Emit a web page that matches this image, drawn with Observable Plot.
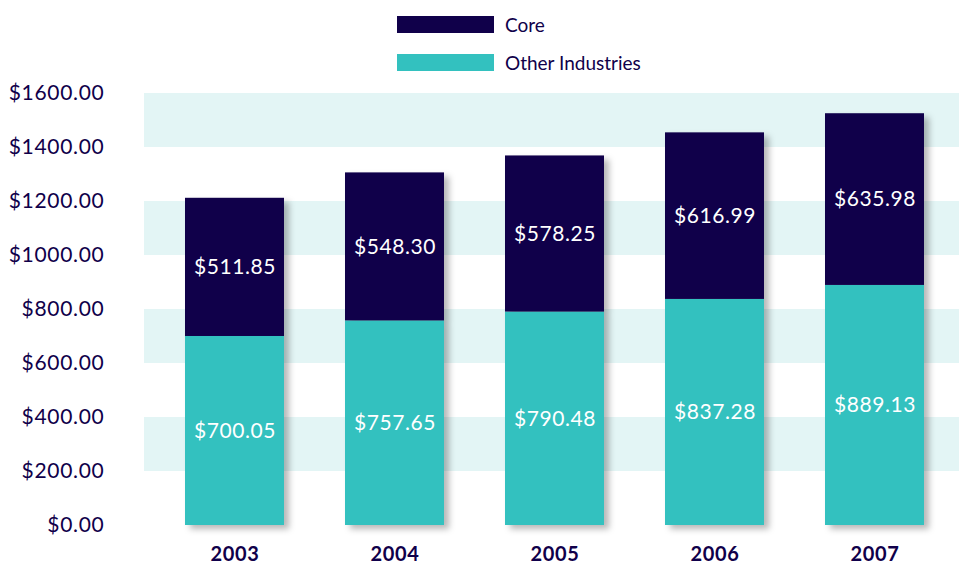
<!DOCTYPE html>
<html>
<head>
<meta charset="utf-8">
<script src="https://cdn.jsdelivr.net/npm/d3@7"></script>
<script src="https://cdn.jsdelivr.net/npm/@observablehq/plot@0.6"></script>
<style>
  html, body { margin: 0; padding: 0; background: #fff; }
  #wrap { position: relative; width: 959px; height: 569px; overflow: hidden; }
  #legend { position: absolute; left: 397px; top: 0; font-family: Lato, sans-serif; font-size: 19px; color: #10004a; }
  .item { position: absolute; left: 0; white-space: nowrap; display: flex; align-items: center; }
  .sw { width: 97px; height: 17px; margin-right: 11px; }
  #chart svg g[aria-label^="x-axis"] text { font-weight: bold; font-size: 20px; letter-spacing: 0.6px; }
  #chart svg g[aria-label^="y-axis"] text { font-size: 21px; letter-spacing: 0.7px; }
  #chart svg g[aria-label="text"] text { letter-spacing: 0.6px; }
  #chart svg g[aria-label="bar"] { filter: drop-shadow(5px 4px 3px rgba(0,0,0,0.28)); }
</style>
</head>
<body>
<div id="wrap">
  <div id="chart"></div>
  <div id="legend"></div>
</div>
<script>
const years = ["2003", "2004", "2005", "2006", "2007"];
const coreValues = [511.85, 548.30, 578.25, 616.99, 635.98];
const otherValues = [700.05, 757.65, 790.48, 837.28, 889.13];
const seriesNames = ["Core", "Other Industries"];
const seriesColors = ["#10004a", "#33c1bf"];
const yTicks = [0, 200, 400, 600, 800, 1000, 1200, 1400, 1600];
const bandStarts = [200, 600, 1000, 1400];
const bandEnds = [400, 800, 1200, 1600];

const data = [];
years.forEach((y, i) => {
  data.push({year: y, series: "Other Industries", value: otherValues[i]});
  data.push({year: y, series: "Core", value: coreValues[i]});
});
const bands = bandStarts.map((s, i) => ({y1: s, y2: bandEnds[i]}));
const order = ["Other Industries", "Core"];

const chart = Plot.plot({
  width: 959,
  height: 569,
  marginTop: 93,
  marginBottom: 44,
  marginLeft: 144,
  marginRight: 0,
  style: {fontFamily: "Lato, sans-serif", fontSize: "20px", color: "#10004a", background: "transparent"},
  x: {domain: years, range: [121, 987], padding: 0.384, tickSize: 0, tickPadding: 21, label: null},
  y: {domain: [0, 1600], ticks: yTicks, tickFormat: d => "$" + d.toFixed(2), tickSize: 0, tickPadding: 40, label: null},
  color: {domain: seriesNames, range: seriesColors},
  marks: [
    Plot.rect(bands, {y1: "y1", y2: "y2", fill: "#e3f5f5"}),
    Plot.barY(data, Plot.stackY({x: "year", y: "value", z: "series", fill: "series", order})),
    Plot.text(data, Plot.stackY({x: "year", y: "value", z: "series", order, text: d => "$" + d.value.toFixed(2), fill: "white", fontSize: 21}))
  ]
});
document.getElementById("chart").appendChild(chart);

const legend = document.getElementById("legend");
const tops = [13, 51];
seriesNames.forEach((name, i) => {
  const item = document.createElement("div");
  item.className = "item";
  item.style.top = tops[i] + "px";
  const sw = document.createElement("div");
  sw.className = "sw";
  sw.style.background = seriesColors[i];
  const label = document.createElement("span");
  label.textContent = name;
  item.appendChild(sw);
  item.appendChild(label);
  legend.appendChild(item);
});
</script>
</body>
</html>
